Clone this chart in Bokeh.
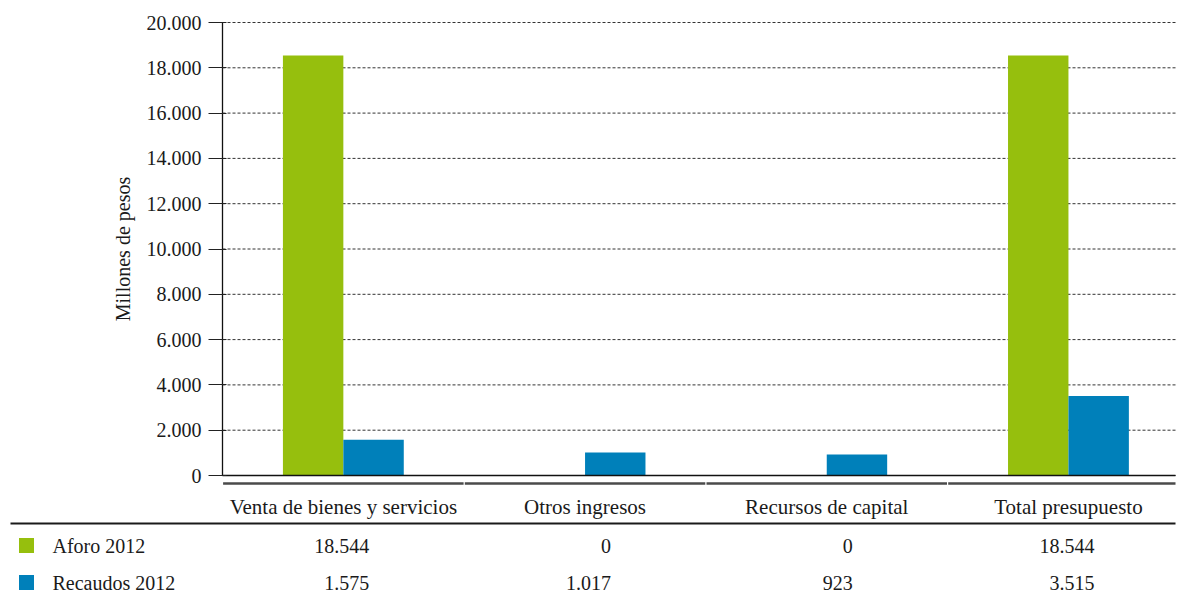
from bokeh.plotting import figure
from bokeh.models import Range1d, CustomJSTickFormatter, FixedTicker
from bokeh.core.properties import value
from bokeh.embed import file_html
from bokeh.resources import INLINE

# ---- data ----
categories = ["Venta de bienes y servicios", "Otros ingresos", "Recursos de capital", "Total presupuesto"]
series_names = ["Aforo 2012", "Recaudos 2012"]
aforo_2012 = [18544, 0, 0, 18544]
recaudos_2012 = [1575, 1017, 923, 3515]
y_ticks = [0, 2000, 4000, 6000, 8000, 10000, 12000, 14000, 16000, 18000, 20000]

# ---- style / layout ----
FONT = "Liberation Serif"
GREEN = "#96BF0D"
BLUE = "#0080BA"
TXT = "#1a1a1a"
W, H = 1178, 594
AXIS_PX = 222          # page x of the value axis
CAT_PX = 241.7         # pixels per category
TOP_PX, BASE_PX = 22, 475
BAR_W = 0.25

def px2x(px):
    return (px - AXIS_PX) / CAT_PX

y_max = 20000
per_px = y_max / (BASE_PX - TOP_PX)
y_min = -(H - BASE_PX) * per_px
y_top = y_max + TOP_PX * per_px

n = len(categories)
centers = [i + 0.5 for i in range(n)]
x_right = px2x(1175)

p = figure(width=W, height=H, output_backend="svg", toolbar_location=None,
           x_range=Range1d(px2x(0), px2x(W)), y_range=Range1d(y_min, y_top),
           x_axis_location=None, y_axis_location="left",
           min_border_left=0, min_border_right=0, min_border_top=0, min_border_bottom=0)
p.outline_line_color = None
p.xgrid.visible = False
p.ygrid.visible = False
# page-pixel range for the table rows below the chart
p.extra_y_ranges = {"tbl": Range1d(H, 0)}

# dashed value gridlines
p.segment(x0=[0] * len(y_ticks), x1=[x_right] * len(y_ticks), y0=y_ticks, y1=y_ticks,
          line_color="#333333", line_dash="3 2", line_width=1)

# bars
p.vbar(x=[c - BAR_W / 2 for c in centers], top=aforo_2012, width=BAR_W,
       fill_color=GREEN, line_color=None)
p.vbar(x=[c + BAR_W / 2 for c in centers], top=recaudos_2012, width=BAR_W,
       fill_color=BLUE, line_color=None)

# baseline
p.segment(x0=[0], x1=[x_right], y0=[0], y1=[0], line_color="#111111", line_width=1.5)

ya = p.yaxis[0]
ya.fixed_location = 0
ya.bounds = (0, y_max)
ya.ticker = FixedTicker(ticks=y_ticks)
ya.formatter = CustomJSTickFormatter(code="return Math.round(tick).toString().replace(/\\B(?=(\\d{3})+(?!\\d))/g, '.');")
ya.axis_label = "Millones de pesos"
ya.axis_label_text_font = FONT
ya.axis_label_text_font_size = "20px"
ya.axis_label_text_font_style = "normal"
ya.axis_label_text_color = TXT
ya.axis_label_standoff = 10
ya.major_label_text_font = FONT
ya.major_label_text_font_size = "20px"
ya.major_label_text_color = TXT
ya.major_label_standoff = 7
ya.major_tick_out = 14
ya.major_tick_in = 4
ya.major_tick_line_color = "#222222"
ya.minor_tick_line_color = None
ya.axis_line_color = "#111111"
ya.axis_line_width = 1.3

# ---- table below ----
px = 1.0 / CAT_PX
p.segment(x0=[i + 0.6 * px for i in range(n)], x1=[min(i + 1 - 0.6 * px, x_right) for i in range(n)],
          y0=[483] * n, y1=[483] * n, line_color="#4a4a4a", line_width=2.5, y_range_name="tbl")

p.text(x=centers, y=[506] * n, text=categories, text_font=value(FONT), text_font_size="21px",
       text_color=TXT, text_align="center", text_baseline="middle", y_range_name="tbl")

p.segment(x0=[px2x(10)], x1=[x_right], y0=[523], y1=[523], line_color="#1a1a1a", line_width=2,
          y_range_name="tbl")

row_y = [545, 582]
series_vals = [aforo_2012, recaudos_2012]
series_cols = [GREEN, BLUE]

def fmt(v):
    return f"{v:,}".replace(",", ".")

p.scatter(x=[px2x(26)] * 2, y=row_y, marker="square", size=15,
          fill_color=series_cols, line_color=None, y_range_name="tbl")
p.text(x=[px2x(52)] * 2, y=row_y, text=series_names, text_font=value(FONT),
       text_font_size="20px", text_color=TXT, text_align="left", text_baseline="middle",
       y_range_name="tbl")

for yy, vals in zip(row_y, series_vals):
    p.text(x=[c + 26 * px for c in centers], y=[yy] * n, text=[fmt(v) for v in vals],
           text_font=value(FONT), text_font_size="20px", text_color=TXT,
           text_align="right", text_baseline="middle", y_range_name="tbl")

open("out.html", "w").write(file_html(p, INLINE))
